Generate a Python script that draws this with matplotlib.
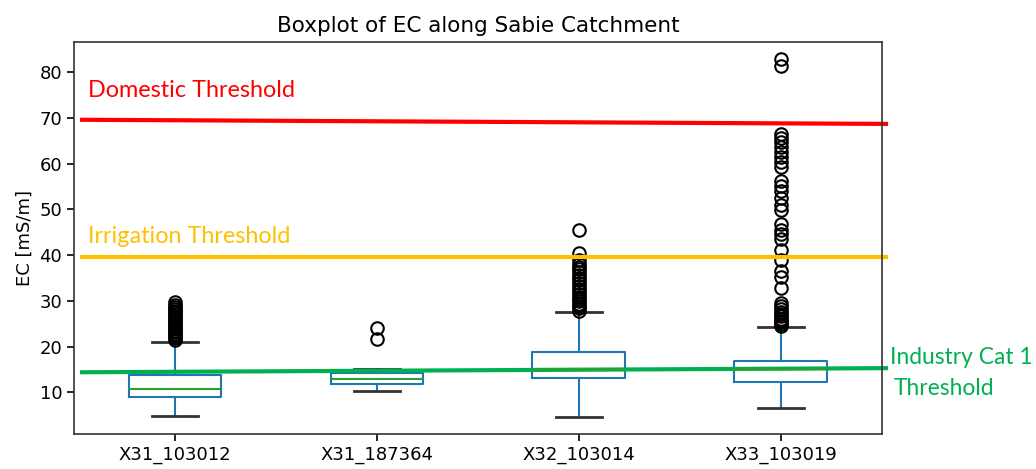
import matplotlib
matplotlib.use("Agg")
import matplotlib.pyplot as plt

# stations along the Sabie catchment
stations = ["X31_103012", "X31_187364", "X32_103014", "X33_103019"]

# box statistics (mS/m)
q1 = [9.1, 11.8, 13.1, 12.2]
medians = [10.7, 13.0, 15.2, 15.1]
q3 = [13.7, 14.2, 18.9, 16.9]
whisker_lo = [4.8, 10.4, 4.7, 6.6]
whisker_hi = [21.1, 15.2, 27.6, 24.2]

fliers_1 = [21.5, 21.9, 22.3, 22.7, 23.1, 23.5, 23.9, 24.3, 24.7, 25.1, 25.5,
            25.9, 26.3, 26.7, 27.1, 27.5, 27.9, 28.3, 28.7, 29.1, 29.8]
fliers_2 = [21.7, 24.1]
fliers_3 = [27.9, 28.4, 28.9, 29.4, 29.9, 30.4, 30.9, 31.5, 32.1, 32.7, 33.3,
            33.9, 34.5, 35.1, 35.7, 36.3, 36.9, 37.5, 38.1, 38.9, 40.4, 45.6]
fliers_4 = [24.5, 24.9, 25.3, 25.7, 26.1, 26.6, 27.1, 27.6, 28.2, 28.8, 29.5,
            32.8, 35.3, 36.6, 38.9, 41.1, 43.6, 44.6, 45.6, 46.9, 49.8, 51.0,
            52.4, 54.0, 55.2, 56.3, 59.2, 60.4, 61.5, 62.6, 63.7, 64.8, 65.7,
            66.5, 81.4, 82.9]
fliers = [fliers_1, fliers_2, fliers_3, fliers_4]

# hand drawn threshold lines (left end, right end)
domestic = [69.6, 68.7]
irrigation = [39.6, 39.6]
industry = [14.4, 15.3]
line_x = [0.54, 4.52]

stats = []
for i, name in enumerate(stations):
    stats.append(dict(label=name, q1=q1[i], med=medians[i], q3=q3[i],
                      whislo=whisker_lo[i], whishi=whisker_hi[i],
                      fliers=fliers[i]))

fig = plt.figure(figsize=(10.36, 4.69), dpi=100)
ax = fig.add_axes([0.0714, 0.0746, 0.7799, 0.8358])

ax.bxp(stats, widths=0.46, patch_artist=False,
       boxprops=dict(color="#1f77b4", linewidth=1.5),
       whiskerprops=dict(color="#1f77b4", linewidth=1.5),
       medianprops=dict(color="#2ca02c", linewidth=1.5),
       capprops=dict(color="#333333", linewidth=2),
       flierprops=dict(marker="o", markerfacecolor="none",
                       markeredgecolor="black", markersize=9,
                       markeredgewidth=1.5))

ax.plot(line_x, domestic, color="#ff0000", linewidth=3, clip_on=False)
ax.plot(line_x, irrigation, color="#ffc000", linewidth=3, clip_on=False)
ax.plot(line_x, industry, color="#00b050", linewidth=3, clip_on=False)

lab_font = "Lato"
ax.text(0.57, 75.9, "Domestic Threshold", color="#ff0000", fontsize=16.8,
        family=lab_font, va="center")
ax.text(0.57, 44.1, "Irrigation Threshold", color="#ffc000", fontsize=16.8,
        family=lab_font, va="center")
ax.text(4.54, 17.6, "Industry Cat 1", color="#00b050", fontsize=16.4,
        family=lab_font, va="center", clip_on=False)
ax.text(4.56, 10.9, "Threshold", color="#00b050", fontsize=16.4,
        family=lab_font, va="center", clip_on=False)

ax.set_xlim(0.5, 4.5)
ax.set_ylim(0.9, 86.6)
ax.set_yticks([10, 20, 30, 40, 50, 60, 70, 80])
ax.tick_params(labelsize=13, length=5, width=1.2)
ax.set_ylabel("EC [mS/m]", fontsize=13)
ax.set_title("Boxplot of EC along Sabie Catchment", fontsize=15.5, pad=7)
for s in ax.spines.values():
    s.set_linewidth(1.2)
    s.set_color("#333333")

fig.savefig("out.png", dpi=100)
